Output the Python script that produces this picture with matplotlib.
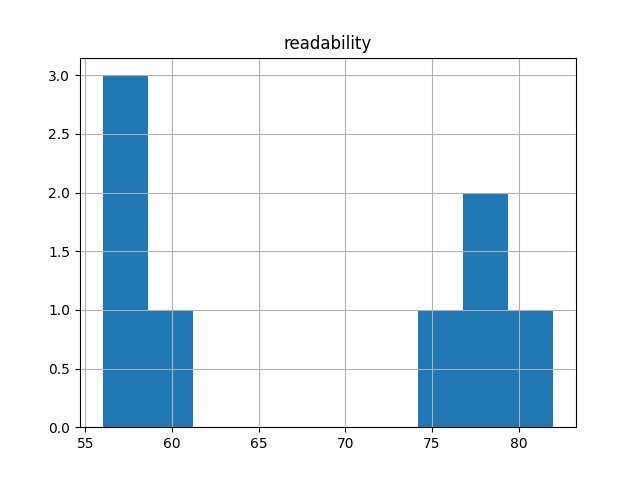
import matplotlib
matplotlib.use('Agg')
import matplotlib.pyplot as plt
import pandas as pd

# readability scores (10 bins, 56 to 82)
readability = [56.0, 57.1, 58.2, 60.3, 75.4, 77.9, 78.6, 82.0]

df = pd.DataFrame({'readability': readability})

# pandas hist gives the titled subplot with grid
df.hist(column='readability', bins=10)

plt.savefig('out.png')
